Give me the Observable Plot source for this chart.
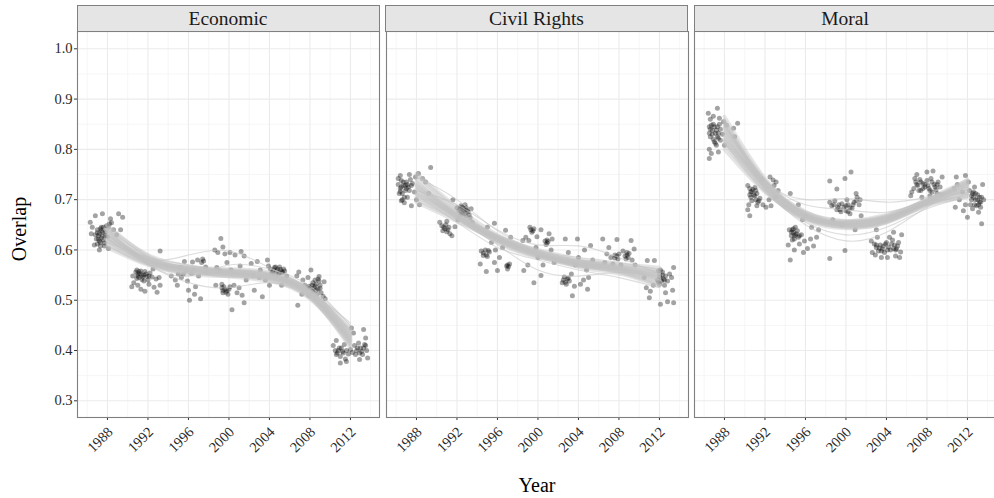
<!DOCTYPE html>
<html>
<head>
<meta charset="utf-8">
<script src="https://cdn.jsdelivr.net/npm/d3@7"></script>
<script src="https://cdn.jsdelivr.net/npm/@observablehq/plot@0.6"></script>
<style>
  html, body { margin: 0; padding: 0; background: #fff; overflow: hidden; }
  #chart { position: relative; width: 994px; height: 498px; font-family: "Liberation Serif", "DejaVu Serif", serif; color: #1a1a1a; overflow: hidden; }
  #chart svg { font-family: "Liberation Serif", "DejaVu Serif", serif !important; }
  #chart svg text { font-family: "Liberation Serif", "DejaVu Serif", serif !important; font-size: 14.5px !important; }
  .strip { position: absolute; top: 5px; height: 25px; width: 301px; background: #e5e5e5; border: 1px solid #808080; box-sizing: content-box; text-align: center; font-size: 19.5px; line-height: 25px; color: #1a1a1a; }
  .panel { position: absolute; top: 31px; }
  .ylab { position: absolute; left: 19px; top: 229px; transform: translate(-50%, -50%) rotate(-90deg); font-size: 20px; white-space: nowrap; color: #000; }
  .xlab { position: absolute; left: 537px; top: 485px; transform: translate(-50%, -50%); font-size: 20px; color: #000; }
</style>
</head>
<body>
<div id="chart"></div>
<script>
const facets = ["Economic", "Civil Rights", "Moral"];
const xTicks = [1988, 1992, 1996, 2000, 2004, 2008, 2012];
const xMinor = [1986, 1990, 1994, 1998, 2002, 2006, 2010, 2014];
const yTicks = [0.3, 0.4, 0.5, 0.6, 0.7, 0.8, 0.9, 1.0];
const yMinor = [0.35, 0.45, 0.55, 0.65, 0.75, 0.85, 0.95];
const lineYears = [1988, 1992, 1996, 2000, 2004, 2008, 2012];

// jittered estimates [year, overlap]
const economicPoints = [
  [1987.0,0.640],[1987.2,0.632],[1987.4,0.645],[1987.1,0.622],[1987.5,0.628],[1987.3,0.615],[1987.8,0.636],[1987.6,0.620],[1987.0,0.612],[1987.9,0.648],[1988.2,0.652],[1988.4,0.654],[1987.7,0.608],[1986.8,0.630],[1987.4,0.638],[1988.0,0.626],
  [1987.1,0.628],[1987.3,0.642],[1987.5,0.635],[1987.2,0.618],[1987.6,0.645],[1987.0,0.634],[1987.4,0.624],[1987.8,0.628],[1988.1,0.645],[1987.3,0.608],[1986.9,0.622],[1987.7,0.614],
  [1986.3,0.655],[1986.5,0.645],[1986.4,0.632],[1986.7,0.610],[1987.2,0.600],[1986.8,0.668],[1987.5,0.672],[1988.3,0.662],[1988.6,0.640],[1989.1,0.672],[1989.5,0.665],[1989.3,0.640],[1988.9,0.630],[1988.1,0.603],
  [1990.8,0.556],[1991.0,0.552],[1991.3,0.558],[1991.1,0.545],[1991.6,0.550],[1991.9,0.547],[1992.2,0.554],[1992.4,0.546],[1991.4,0.541],[1990.9,0.560],[1992.0,0.540],[1991.7,0.557],
  [1991.0,0.548],[1991.2,0.553],[1991.5,0.546],[1991.8,0.552],[1991.1,0.557],[1991.4,0.550],[1992.1,0.548],[1990.9,0.543],[1991.6,0.538],
  [1990.4,0.527],[1990.6,0.535],[1991.0,0.530],[1991.3,0.522],[1991.7,0.518],[1992.1,0.532],[1992.6,0.526],[1992.9,0.516],[1993.2,0.530],[1992.8,0.542],[1993.1,0.545],[1992.5,0.562],[1990.5,0.548],[1993.2,0.598],
  [1994.3,0.548],[1994.7,0.540],[1995.0,0.552],[1995.3,0.545],[1995.6,0.577],[1995.8,0.560],[1996.1,0.500],[1996.0,0.520],[1996.4,0.576],[1996.6,0.512],[1996.7,0.527],[1996.9,0.580],[1997.2,0.503],[1997.4,0.582],[1997.5,0.578],[1997.7,0.566],[1995.2,0.565],[1996.3,0.553],[1997.0,0.548],[1995.9,0.538],[1994.9,0.530],[1997.8,0.556],[1996.5,0.560],[1995.5,0.552],[1997.3,0.575],
  [1998.6,0.600],[1998.9,0.595],[1999.2,0.623],[1999.4,0.606],[1999.6,0.592],[2000.1,0.595],[2000.6,0.590],[2001.2,0.597],[2001.5,0.588],[1998.8,0.565],[1999.1,0.558],[1999.3,0.525],[1999.4,0.520],[1999.5,0.527],[1999.7,0.516],[1999.9,0.512],[2000.0,0.522],[2000.3,0.481],[2000.5,0.530],[2000.8,0.515],[2001.0,0.525],[2001.3,0.510],[2001.5,0.495],[2001.7,0.540],[1998.7,0.530],[2000.2,0.560],[2001.1,0.568],[1999.8,0.575],
  [1999.4,0.515],[1999.6,0.522],[1999.8,0.519],[2000.1,0.527],[1999.3,0.532],
  [2002.2,0.573],[2002.5,0.520],[2002.8,0.577],[2003.1,0.560],[2003.3,0.507],[2003.6,0.540],[2003.8,0.580],[2004.1,0.562],[2004.3,0.556],[2004.5,0.565],[2004.7,0.558],[2004.9,0.553],[2005.1,0.561],[2005.3,0.555],[2005.5,0.558],[2004.6,0.550],[2005.0,0.566],[2005.7,0.548],[2003.0,0.545],[2004.0,0.530],[2005.2,0.530],[2002.4,0.550],[2003.9,0.568],
  [2004.4,0.560],[2004.8,0.562],[2005.2,0.557],[2005.0,0.554],[2004.6,0.566],[2005.4,0.562],[2004.2,0.552],
  [2006.7,0.548],[2006.8,0.490],[2006.9,0.556],[2007.3,0.540],[2007.5,0.530],[2007.7,0.522],[2007.8,0.545],[2008.0,0.525],[2008.2,0.518],[2008.3,0.535],[2008.5,0.528],[2008.6,0.520],[2008.8,0.542],[2008.9,0.547],[2009.0,0.530],[2009.1,0.515],[2009.3,0.508],[2009.5,0.503],[2008.1,0.560],[2007.2,0.512],[2009.4,0.537],[2007.9,0.510],[2008.7,0.512],
  [2008.4,0.525],[2008.6,0.532],[2008.8,0.522],[2008.2,0.530],[2008.9,0.538],[2008.5,0.540],[2007.9,0.528],[2008.3,0.518],[2009.0,0.524],
  [2010.3,0.410],[2010.5,0.400],[2010.7,0.395],[2010.9,0.405],[2011.0,0.388],[2011.2,0.398],[2011.5,0.383],[2011.8,0.393],[2012.0,0.402],[2012.2,0.396],[2012.4,0.410],[2012.6,0.400],[2012.8,0.415],[2013.0,0.405],[2013.2,0.392],[2013.4,0.412],[2013.6,0.400],[2013.7,0.385],[2011.0,0.375],[2011.6,0.378],[2012.3,0.435],[2013.3,0.442],[2012.1,0.445],[2013.5,0.425],[2010.6,0.420],[2012.9,0.382],[2011.4,0.412],
  [2010.8,0.400],[2011.1,0.405],[2011.3,0.395],[2012.5,0.392],[2012.7,0.405],[2013.1,0.398],[2013.3,0.405],[2010.6,0.392],[2012.9,0.395],[2013.5,0.410],[2011.6,0.400]
];
const civilPoints = [
  [1986.2,0.730],[1986.4,0.722],[1986.5,0.738],[1986.3,0.712],[1986.7,0.728],[1986.9,0.718],[1987.0,0.735],[1986.6,0.700],[1987.2,0.725],[1987.4,0.740],[1987.1,0.705],[1987.6,0.732],[1986.8,0.694],[1987.8,0.715],[1986.4,0.748],[1987.3,0.750],[1987.9,0.745],[1988.2,0.752],[1988.6,0.742],[1988.9,0.735],[1989.4,0.764],[1989.2,0.712],[1988.0,0.700],[1987.5,0.688],[1988.3,0.690],[1986.2,0.742],
  [1986.5,0.725],[1986.7,0.735],[1986.9,0.728],[1986.4,0.716],[1986.6,0.712],[1987.1,0.730],[1987.3,0.718],[1986.8,0.705],[1986.5,0.698],[1987.0,0.722],[1987.5,0.728],
  [1992.0,0.684],[1992.2,0.678],[1992.4,0.688],[1992.5,0.672],[1992.7,0.680],[1992.9,0.668],[1993.1,0.676],[1993.3,0.664],[1992.3,0.668],[1992.8,0.690],[1993.4,0.682],[1991.6,0.700],[1990.3,0.655],[1990.5,0.648],[1990.7,0.645],[1990.9,0.650],[1991.1,0.640],[1991.3,0.632],[1991.5,0.628],[1990.6,0.638],[1991.0,0.657],[1991.8,0.646],[1993.5,0.655],[1992.1,0.660],
  [1992.3,0.682],[1992.5,0.685],[1992.6,0.676],[1992.8,0.672],[1993.0,0.680],[1992.4,0.674],[1992.9,0.684],[1993.2,0.670],[1990.8,0.642],[1991.0,0.636],[1991.2,0.645],
  [1994.4,0.598],[1994.6,0.594],[1994.8,0.600],[1994.9,0.590],[1995.0,0.587],[1995.2,0.596],[1994.3,0.572],[1994.9,0.557],[1995.0,0.645],[1995.7,0.653],[1995.7,0.575],[1996.0,0.559],[1996.2,0.585],[1996.5,0.605],[1996.8,0.639],[1997.0,0.570],[1997.1,0.567],[1997.2,0.572],[1996.9,0.568],[1997.3,0.625],[1995.4,0.615],[1996.4,0.620],[1995.8,0.600],
  [1994.6,0.589],[1995.1,0.599],[1997.0,0.562],
  [1999.3,0.640],[1999.5,0.638],[1999.6,0.642],[1999.4,0.635],[2000.3,0.640],[2000.7,0.618],[2000.9,0.614],[2001.0,0.617],[2000.8,0.611],[1998.5,0.619],[1998.8,0.625],[1999.1,0.619],[1999.9,0.626],[2001.1,0.632],[2001.4,0.622],[1998.6,0.559],[1999.0,0.570],[1999.6,0.535],[2000.3,0.549],[2000.0,0.585],[2001.3,0.600],[2001.6,0.575],[1999.8,0.605],[2000.5,0.570],
  [1999.2,0.645],[2000.9,0.620],
  [2002.5,0.540],[2002.7,0.536],[2002.9,0.542],[2002.8,0.532],[2003.1,0.538],[2002.6,0.546],[2002.7,0.622],[2003.9,0.622],[2005.2,0.609],[2004.6,0.600],[2003.4,0.509],[2004.2,0.532],[2004.9,0.522],[2004.5,0.540],[2003.3,0.552],[2003.7,0.570],[2004.0,0.585],[2004.8,0.560],[2005.4,0.580],[2003.0,0.595],[2005.0,0.545],[2003.6,0.528],
  [2002.4,0.535],[2003.0,0.544],
  [2006.4,0.622],[2006.8,0.592],[2007.2,0.585],[2007.6,0.590],[2007.8,0.588],[2008.0,0.592],[2007.9,0.582],[2007.8,0.621],[2008.4,0.598],[2008.6,0.588],[2008.8,0.590],[2008.9,0.585],[2009.0,0.593],[2008.7,0.582],[2009.2,0.619],[2009.5,0.602],[2009.3,0.580],[2006.6,0.575],[2007.4,0.572],[2008.2,0.570],[2009.6,0.570],[2007.0,0.605],
  [2007.6,0.584],[2008.8,0.595],
  [2011.9,0.558],[2012.0,0.552],[2012.1,0.545],[2012.2,0.538],[2012.0,0.532],[2012.3,0.550],[2012.1,0.560],[2012.4,0.542],[2012.5,0.530],[2011.8,0.540],[2012.6,0.548],[2012.8,0.538],[2013.0,0.552],[2013.2,0.545],[2013.4,0.565],[2013.4,0.495],[2012.1,0.492],[2012.8,0.497],[2010.8,0.579],[2011.5,0.579],[2010.5,0.545],[2010.7,0.525],[2011.1,0.518],[2011.4,0.530],[2013.3,0.520],[2012.6,0.515],[2011.0,0.505],
  [2012.0,0.546],[2012.3,0.556],[2011.9,0.536],[2012.5,0.540]
];
const moralPoints = [
  [1986.4,0.872],[1986.6,0.860],[1986.5,0.845],[1986.8,0.838],[1986.6,0.825],[1986.9,0.850],[1987.1,0.832],[1987.3,0.845],[1987.0,0.815],[1987.4,0.822],[1987.6,0.840],[1987.2,0.808],[1987.8,0.830],[1986.5,0.800],[1986.7,0.792],[1986.5,0.782],[1987.4,0.795],[1987.5,0.862],[1987.9,0.855],[1988.2,0.848],[1988.9,0.842],[1989.3,0.852],[1989.0,0.825],[1987.3,0.882],[1988.0,0.808],[1986.9,0.866],
  [1986.6,0.840],[1986.8,0.830],[1987.0,0.845],[1987.2,0.838],[1986.9,0.820],[1987.1,0.812],[1987.4,0.832],[1986.7,0.848],[1987.3,0.825],[1987.6,0.818],[1986.5,0.832],[1987.5,0.850],
  [1990.3,0.728],[1990.5,0.722],[1990.7,0.716],[1990.6,0.705],[1990.9,0.710],[1991.1,0.700],[1991.3,0.695],[1991.5,0.703],[1991.0,0.724],[1990.4,0.690],[1990.3,0.680],[1990.5,0.668],[1991.2,0.688],[1991.8,0.690],[1992.1,0.685],[1992.6,0.688],[1992.8,0.739],[1992.5,0.745],[1992.9,0.728],[1993.1,0.735],[1993.3,0.718],[1992.4,0.700],[1991.7,0.740],[1993.0,0.705],
  [1990.6,0.715],[1990.8,0.720],[1991.0,0.708],[1991.2,0.712],[1991.4,0.698],[1990.7,0.698],[1991.1,0.718],[1990.5,0.710],
  [1994.4,0.640],[1994.6,0.635],[1994.8,0.642],[1994.9,0.628],[1995.1,0.632],[1995.3,0.625],[1994.7,0.620],[1995.0,0.645],[1994.3,0.610],[1994.5,0.580],[1994.9,0.600],[1995.4,0.612],[1995.6,0.630],[1995.9,0.618],[1996.2,0.603],[1996.5,0.622],[1996.8,0.608],[1997.1,0.625],[1997.3,0.640],[1995.7,0.660],[1996.0,0.668],[1994.5,0.712],[1995.3,0.690],[1996.6,0.645],[1995.8,0.595],
  [1994.6,0.628],[1994.8,0.635],[1995.0,0.630],[1995.2,0.638],[1994.7,0.640],[1995.4,0.628],[1994.9,0.622],
  [1998.4,0.695],[1998.6,0.688],[1998.9,0.698],[1999.1,0.680],[1999.3,0.690],[1999.5,0.676],[1999.8,0.685],[2000.0,0.678],[2000.2,0.690],[2000.4,0.672],[2000.6,0.683],[2000.8,0.695],[2001.0,0.712],[2001.1,0.705],[2001.3,0.690],[2000.1,0.700],[2000.5,0.755],[1999.9,0.742],[1998.4,0.737],[1999.1,0.721],[1998.4,0.583],[1999.9,0.599],[1998.7,0.660],[1999.6,0.650],[2001.5,0.668],[2000.9,0.640],[2001.4,0.700],
  [1998.8,0.690],[1999.2,0.685],[1999.6,0.692],[2000.0,0.688],[2000.4,0.684],[2000.7,0.690],[2001.0,0.698],[1999.4,0.680],[2000.2,0.676],
  [2002.5,0.618],[2002.8,0.612],[2003.0,0.605],[2003.2,0.598],[2003.4,0.610],[2003.6,0.602],[2003.8,0.595],[2004.0,0.615],[2004.2,0.606],[2004.4,0.600],[2004.6,0.620],[2004.8,0.610],[2005.0,0.602],[2005.2,0.615],[2005.4,0.596],[2003.1,0.625],[2004.3,0.625],[2002.6,0.595],[2003.5,0.585],[2004.1,0.585],[2004.9,0.588],[2005.5,0.630],[2003.0,0.640],[2004.7,0.635],[2002.9,0.590],[2005.3,0.585],
  [2003.0,0.610],[2003.3,0.604],[2003.7,0.608],[2004.1,0.600],[2004.5,0.612],[2004.9,0.600],[2005.1,0.608],[2003.9,0.612],[2004.7,0.603],[2003.5,0.598],
  [2006.5,0.715],[2006.7,0.722],[2006.9,0.735],[2007.1,0.728],[2007.3,0.740],[2007.4,0.718],[2007.6,0.732],[2007.8,0.725],[2008.0,0.738],[2008.2,0.722],[2008.4,0.742],[2008.5,0.715],[2008.7,0.730],[2008.9,0.720],[2009.1,0.735],[2009.3,0.725],[2007.0,0.750],[2008.0,0.755],[2008.6,0.757],[2009.5,0.745],[2006.4,0.708],[2007.5,0.705],[2008.3,0.708],[2009.0,0.712],[2006.8,0.742],[2009.4,0.710],
  [2007.0,0.730],[2007.4,0.735],[2007.8,0.730],[2008.1,0.728],[2008.5,0.735],[2008.8,0.725],[2009.0,0.730],[2007.6,0.722],[2008.3,0.718],[2007.2,0.718],
  [2012.2,0.718],[2012.4,0.708],[2012.6,0.715],[2012.8,0.700],[2013.0,0.710],[2013.2,0.695],[2013.4,0.705],[2012.3,0.690],[2012.5,0.682],[2012.9,0.688],[2013.1,0.675],[2013.3,0.685],[2012.7,0.725],[2013.4,0.652],[2010.9,0.745],[2011.8,0.748],[2010.7,0.722],[2011.2,0.700],[2011.5,0.715],[2010.8,0.685],[2011.6,0.678],[2013.5,0.730],[2012.0,0.665],[2011.0,0.730],[2013.6,0.700],[2012.1,0.735],
  [2012.4,0.700],[2012.6,0.705],[2012.8,0.712],[2013.0,0.700],[2013.2,0.705],[2012.7,0.690],[2013.1,0.690],[2012.5,0.712],[2013.3,0.695],[2011.8,0.690]
];

// resampled smoother fits (values at lineYears): main bundle and stray fits
const economicLines = [
  [0.625,0.578,0.561,0.555,0.548,0.513,0.425],
  [0.640,0.585,0.562,0.556,0.550,0.518,0.440],
  [0.612,0.572,0.559,0.553,0.545,0.510,0.415],
  [0.632,0.580,0.565,0.560,0.553,0.520,0.432],
  [0.618,0.576,0.556,0.549,0.542,0.506,0.418],
  [0.645,0.590,0.568,0.558,0.551,0.515,0.428],
  [0.605,0.570,0.555,0.552,0.546,0.512,0.422],
  [0.628,0.583,0.559,0.551,0.540,0.505,0.410],
  [0.636,0.574,0.552,0.548,0.547,0.522,0.445],
  [0.620,0.579,0.566,0.562,0.556,0.517,0.420],
  [0.648,0.588,0.560,0.547,0.538,0.503,0.412],
  [0.610,0.574,0.563,0.558,0.549,0.511,0.430],
  [0.638,0.577,0.556,0.557,0.552,0.508,0.405],
  [0.622,0.581,0.564,0.554,0.544,0.514,0.436]
];
const economicStray = [
  [0.630,0.582,0.590,0.598,0.565,0.520,0.438],
  [0.622,0.570,0.535,0.525,0.535,0.505,0.420],
  [0.615,0.586,0.570,0.555,0.543,0.515,0.455],
  [0.642,0.572,0.548,0.570,0.562,0.528,0.450]
];
const civilLines = [
  [0.720,0.668,0.622,0.592,0.574,0.563,0.545],
  [0.740,0.675,0.625,0.594,0.577,0.566,0.552],
  [0.700,0.660,0.618,0.590,0.571,0.559,0.538],
  [0.730,0.672,0.628,0.598,0.579,0.568,0.556],
  [0.710,0.664,0.616,0.586,0.569,0.557,0.533],
  [0.748,0.680,0.624,0.590,0.572,0.563,0.548],
  [0.695,0.657,0.620,0.595,0.578,0.564,0.541],
  [0.725,0.670,0.619,0.587,0.568,0.560,0.550],
  [0.715,0.666,0.627,0.600,0.582,0.570,0.560],
  [0.735,0.671,0.621,0.589,0.570,0.556,0.530],
  [0.705,0.663,0.624,0.596,0.575,0.561,0.542],
  [0.752,0.685,0.630,0.593,0.571,0.565,0.555],
  [0.712,0.669,0.626,0.594,0.566,0.553,0.528],
  [0.728,0.667,0.615,0.585,0.577,0.572,0.565]
];
const civilStray = [
  [0.718,0.690,0.640,0.610,0.608,0.585,0.552],
  [0.722,0.662,0.610,0.560,0.548,0.555,0.548],
  [0.745,0.700,0.638,0.600,0.585,0.575,0.560],
  [0.708,0.655,0.605,0.580,0.560,0.545,0.525]
];
const moralLines = [
  [0.832,0.728,0.668,0.652,0.662,0.694,0.722],
  [0.855,0.738,0.670,0.650,0.660,0.696,0.730],
  [0.810,0.718,0.664,0.652,0.664,0.692,0.712],
  [0.845,0.735,0.675,0.658,0.668,0.700,0.735],
  [0.820,0.722,0.662,0.646,0.656,0.688,0.708],
  [0.865,0.742,0.668,0.645,0.654,0.690,0.725],
  [0.800,0.715,0.667,0.655,0.667,0.698,0.718],
  [0.838,0.732,0.672,0.649,0.658,0.692,0.740],
  [0.826,0.724,0.660,0.643,0.655,0.695,0.728],
  [0.850,0.730,0.666,0.654,0.665,0.691,0.705],
  [0.815,0.726,0.673,0.657,0.663,0.697,0.733],
  [0.842,0.736,0.664,0.648,0.661,0.701,0.715],
  [0.858,0.725,0.662,0.656,0.670,0.693,0.712],
  [0.818,0.733,0.676,0.650,0.657,0.699,0.738]
];
const moralStray = [
  [0.828,0.735,0.700,0.702,0.695,0.705,0.725],
  [0.835,0.722,0.650,0.618,0.635,0.685,0.720],
  [0.848,0.740,0.690,0.680,0.675,0.700,0.730],
  [0.812,0.715,0.655,0.630,0.645,0.682,0.705]
];

const pointSets = [economicPoints, civilPoints, moralPoints];
const lineSets = [economicLines, civilLines, moralLines];
const straySets = [economicStray, civilStray, moralStray];
const panelLefts = [77, 385.5, 694];
const panelW = 302, panelH = 386;

const toRows = (lines) => lines.flatMap((vals, k) => vals.map((v, j) => ({id: k, x: lineYears[j], y: v})));

const chart = document.getElementById("chart");

facets.forEach((name, i) => {
  const ml = i === 0 ? 77 : 0;
  const pts = pointSets[i].map(([x, y]) => ({x, y}));
  const marks = [
    Plot.ruleX(xMinor, {stroke: "#f4f4f4", strokeWidth: 0.8}),
    Plot.ruleY(yMinor, {stroke: "#f4f4f4", strokeWidth: 0.8}),
    Plot.ruleX(xTicks, {stroke: "#ebebeb", strokeWidth: 1.1}),
    Plot.ruleY(yTicks, {stroke: "#ebebeb", strokeWidth: 1.1}),
    Plot.dot(pts, {x: "x", y: "y", r: 2.5, fill: "black", fillOpacity: 0.36, stroke: "none"}),
    Plot.line(toRows(straySets[i]), {x: "x", y: "y", z: "id", curve: "natural", stroke: "#c6c6c6", strokeOpacity: 0.6, strokeWidth: 1.1}),
    Plot.line(toRows(lineSets[i]), {x: "x", y: "y", z: "id", curve: "natural", stroke: "#c0c0c0", strokeOpacity: 0.42, strokeWidth: 3.8}),
    Plot.axisX(xTicks, {tickSize: 3, tickFormat: () => "", label: null, stroke: "#333"}),
    Plot.axisX(xTicks, {tickSize: 0, tickPadding: 12, tickRotate: -45, textAnchor: "end", dx: 3, fontSize: 14.5, tickFormat: d => String(d), label: null, fill: "#2a2a2a"}),
    Plot.frame({stroke: "#7f7f7f", strokeWidth: 1.1})
  ];
  if (i === 0) {
    marks.push(Plot.axisY(yTicks, {tickSize: 3, tickPadding: 2, fontSize: 14.5, tickFormat: d => d.toFixed(1), label: null, stroke: "#333", fill: "#2a2a2a"}));
  }
  const svg = Plot.plot({
    width: ml + panelW,
    height: panelH + 81,
    marginLeft: ml,
    marginRight: 0,
    marginTop: 0,
    marginBottom: 81,
    x: {domain: [1985.04, 2014.87]},
    y: {domain: [0.2668, 1.0344], axis: i === 0 ? undefined : null},
    style: {overflow: "visible", background: "transparent"},
    marks
  });
  svg.style.maxWidth = "none";
  const wrap = document.createElement("div");
  wrap.className = "panel";
  wrap.style.left = (panelLefts[i] - ml) + "px";
  wrap.appendChild(svg);
  chart.appendChild(wrap);

  const strip = document.createElement("div");
  strip.className = "strip";
  strip.style.left = (panelLefts[i] - 0.5) + "px";
  strip.textContent = name;
  chart.appendChild(strip);
});

const ylab = document.createElement("div");
ylab.className = "ylab";
ylab.textContent = "Overlap";
chart.appendChild(ylab);
const xlab = document.createElement("div");
xlab.className = "xlab";
xlab.textContent = "Year";
chart.appendChild(xlab);
</script>
</body>
</html>
